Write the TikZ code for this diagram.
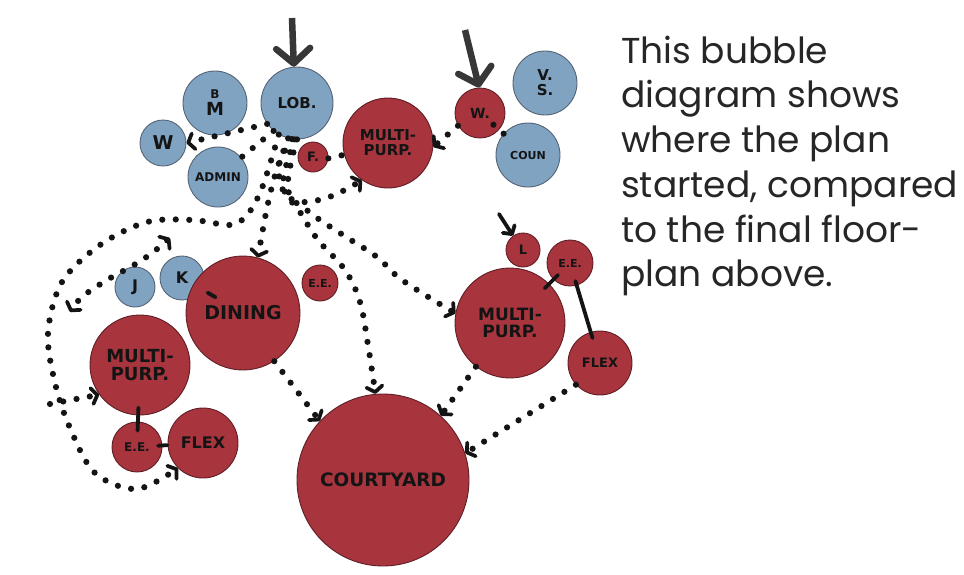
\documentclass[tikz,border=0pt]{standalone}
\usepackage{fontspec}
\setmainfont{Poppins}
\newfontfamily\handfont{DejaVu Sans}
\usetikzlibrary{arrows.meta,calc}
\definecolor{bubred}{RGB}{168,52,62}
\definecolor{bubblue}{RGB}{128,163,194}
\definecolor{redline}{RGB}{95,30,36}
\definecolor{blueline}{RGB}{85,100,116}
\definecolor{ink}{RGB}{20,20,20}
\definecolor{txt}{RGB}{38,38,38}
\tikzset{
  bub/.style={circle, inner sep=0pt, minimum size=#1pt, align=center, text=ink, line width=0.9pt},
  redb/.style={bub=#1, fill=bubred, draw=redline},
  blueb/.style={bub=#1, fill=bubblue, draw=blueline},
  lbl/.style={font=\handfont\bfseries\fontsize{#1}{#1}\selectfont},
  chev/.tip={Straight Barb[length=5.5pt 0, width=16pt 0, line width=0pt 0.6, round]},
  dotline/.style={draw=ink, line width=6.2pt, line cap=round, dash pattern=on 0pt off 13.5pt},
  entry/.style={draw=ink!85, line width=6.5pt, -{Straight Barb[length=15pt 0, width=34pt 0, line width=0pt 1, round]}},
  link/.style={draw=ink, line width=3.8pt, line cap=round},
  para/.style={font=\fontsize{36}{36}\selectfont, text=txt, anchor=base west, inner sep=0pt},
}
\begin{document}
\begin{tikzpicture}[x=1pt, y=-1pt]
\useasboundingbox (0,0) rectangle (964,574);
% blue bubbles
\node[blueb=72, lbl=15] (lob) at (297,103) {LOB.};
\node[blueb=64, lbl=18] (bm) at (215,103) {{\fontsize{12}{12}\selectfont B}\\[-1pt]M};
\node[blueb=46, lbl=19] (wb) at (163,143) {W};
\node[blueb=60, lbl=12] (admin) at (218,177) {ADMIN};
\node[blueb=64, lbl=15] (vs) at (545,83) {V.\\S.};
\node[blueb=64, lbl=11] (coun) at (528,155) {COUN};
\node[blueb=40, lbl=16] (j) at (135,287) {J};
\node[blueb=44, lbl=16] (k) at (182,278) {K};
% red bubbles
\node[redb=90, lbl=15] (mpt) at (388,143) {MULTI-\\PURP.};
\node[redb=30, lbl=13] (f) at (313,157) {F.};
\node[redb=50, lbl=14] (wr) at (480,113) {W.};
\node[redb=114, lbl=19] (dining) at (243,313) {DINING};
\node[redb=36, lbl=11] (ee1) at (320,283) {E.E.};
\node[redb=100, lbl=18] (mpl) at (140,365) {MULTI-\\PURP.};
\node[redb=50, lbl=12] (ee2) at (137,447) {E.E.};
\node[redb=70, lbl=16] (flex1) at (203,443) {FLEX};
\node[redb=172, lbl=18.5] (court) at (383,480) {COURTYARD};
\node[redb=110, lbl=17] (mpr) at (510,323) {MULTI-\\PURP.};
\node[redb=34, lbl=13] (l) at (523,250) {L};
\node[redb=46, lbl=11] (ee3) at (570,263) {E.E.};
\node[redb=64, lbl=13] (flex2) at (600,363) {FLEX};
% free ends
\coordinate (e1) at (292,18);
\coordinate (e2) at (465,30);
\coordinate (e3) at (499,214);
\coordinate (ia) at (170,238);
\coordinate (ib) at (70,312);
\coordinate (br) at (50,404);
% entrance arrows
\draw[entry] (e1) -- (lob.95);
\draw[entry] (e2) -- (wr.92);
\draw[link, -{Straight Barb[length=6pt 0, width=14pt 0, line width=0pt 1, round]}] (e3) -- (l.125);
% dotted connectors
\draw[dotline, -{chev}] (lob.215) -- (wb.east);
\draw[dotline] (lob.230) -- (admin.40);
\draw[dotline, -{chev}] plot[smooth, tension=0.6] coordinates {(lob.256) (276,172) (267,208) (dining.75)};
\draw[dotline, -{chev}] plot[smooth, tension=0.55] coordinates {(lob.240) (262,188) (247,215) (230,225) (193,220) (147,222) (100,245) (62,282) (48,333) (55,383) (70,428) (95,473) (137,489) (flex1.225)};
\draw[dotline, {chev}-{chev}] plot[smooth, tension=0.6] coordinates {(ia) (142,260) (107,280) (82,297) (ib)};
\draw[dotline, -{chev}] (br) -- (mpl.216);
\draw[dotline, -{chev}] plot[smooth, tension=0.6] coordinates {(lob.262) (279,165) (284,192) (302,202) (332,196) (mpt.235)};
\draw[dotline, -{chev}] plot[smooth, tension=0.6] coordinates {(lob.266) (283,185) (300,212) (318,240) (345,270) (360,302) (368,345) (court.95)};
\draw[dotline, -{chev}] plot[smooth, tension=0.6] coordinates {(lob.270) (288,190) (312,214) (343,235) (377,257) (402,280) (mpr.170)};
\draw[dotline] (f.-5) -- (mpt.195);
\draw[dotline, -{chev}] (wr.210) -- (mpt.-5);
\draw[dotline] ($(wr.center)!0.28!(coun.center)$) -- ($(wr.center)!0.62!(coun.center)$);
\draw[dotline, -{chev}] (dining.-57) -- (court.137);
\draw[dotline, -{chev}] (mpr.232) -- (court.48);
\draw[dotline, -{chev}] (flex2.222) -- (court.18);
% solid links
\draw[link] ($(k.center)!0.42!(dining.center)$) -- ($(k.center)!0.55!(dining.center)$);
\draw[link] ($(mpl.center)!0.52!(ee2.center)$) -- ($(mpl.center)!0.8!(ee2.center)$);
\draw[link] ($(ee2.center)!0.32!(flex1.center)$) -- ($(ee2.center)!0.46!(flex1.center)$);
\draw[link] ($(ee3.center)!0.2!(mpr.center)$) -- ($(ee3.center)!0.42!(mpr.center)$);
\draw[link] ($(ee3.center)!0.18!(flex2.center)$) -- ($(ee3.center)!0.75!(flex2.center)$);
% text
\node[para] (t1) at (621,63) {This bubble};
\node[para] (t2) at (621,107) {diagram shows};
\node[para] (t3) at (621,152) {where the plan};
\node[para] (t4) at (621,197) {started, compared};
\node[para] (t5) at (621,242) {to the final floor-};
\node[para] (t6) at (621,286) {plan above.};
\end{tikzpicture}
\end{document}
